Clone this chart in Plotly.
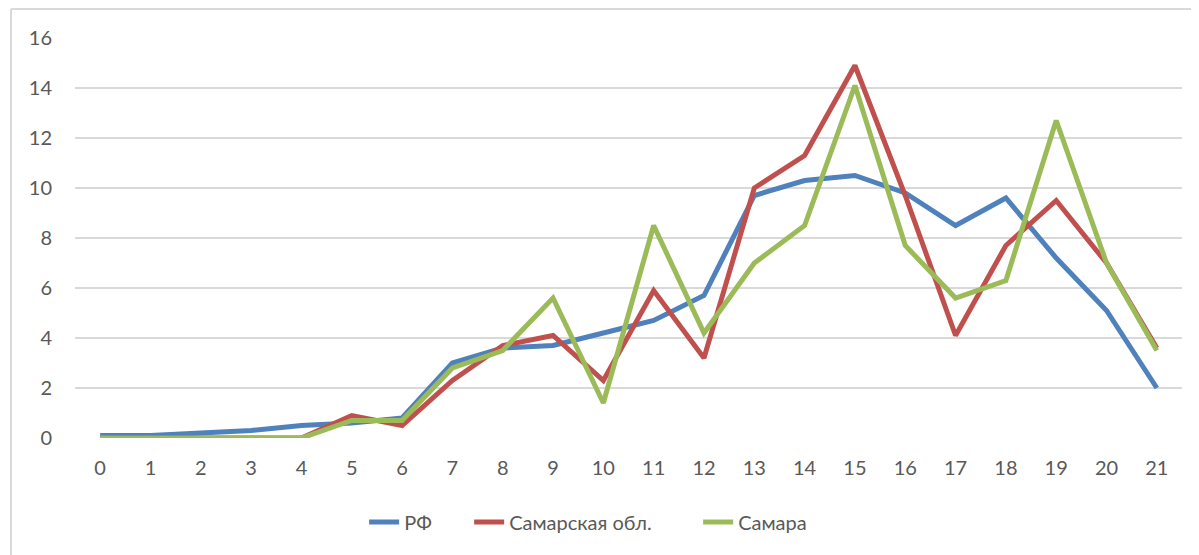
import plotly.graph_objects as go

categories = list(range(0, 22))
rf = [0.1, 0.1, 0.2, 0.3, 0.5, 0.6, 0.8, 3.0, 3.6, 3.7, 4.2, 4.7, 5.7, 9.7, 10.3, 10.5, 9.8, 8.5, 9.6, 7.2, 5.1, 2.0]
samara_obl = [0, 0, 0, 0, 0, 0.9, 0.5, 2.3, 3.7, 4.1, 2.3, 5.9, 3.2, 10.0, 11.3, 14.9, 9.7, 4.1, 7.7, 9.5, 7.0, 3.6]
samara = [0, 0, 0, 0, 0, 0.7, 0.7, 2.8, 3.5, 5.6, 1.4, 8.5, 4.2, 7.0, 8.5, 14.1, 7.7, 5.6, 6.3, 12.7, 7.0, 3.5]

series_names = ["РФ", "Самарская обл.", "Самара"]
colors = ["#4F81BD", "#C0504D", "#9BBB59"]
legend_widths = [60, 184, 80]
y_ticks = [0, 2, 4, 6, 8, 10, 12, 14, 16]

fig = go.Figure()
for name, vals, col, lw in zip(series_names, [rf, samara_obl, samara], colors, legend_widths):
    fig.add_trace(go.Scatter(x=categories, y=vals, mode="lines", name=name,
                             line=dict(color=col, width=5), legendwidth=lw))

font = dict(family="Lato, Carlito, sans-serif", size=20, color="#595959")

# page body has an 8px margin, so the figure is shifted by 8px
fig.update_layout(
    width=1191, height=547,
    margin=dict(l=67, r=17, t=30, b=117),
    paper_bgcolor="white", plot_bgcolor="white",
    font=font,
    showlegend=True,
    legend=dict(orientation="h", x=0.4685, xanchor="center", y=-0.21, yanchor="middle",
                font=font, traceorder="normal"),
    xaxis=dict(range=[-0.5, 21.5], tickmode="array", tickvals=categories,
               ticktext=[str(c) for c in categories], showgrid=False, zeroline=False,
               showline=False, ticks="", ticklabelstandoff=16, tickfont=font),
    yaxis=dict(range=[0, 16], tickmode="array", tickvals=y_ticks,
               showgrid=True, gridcolor="#d9d9d9", gridwidth=2, zeroline=False,
               showline=False, ticks="", ticklabelstandoff=22, tickfont=font),
    shapes=[
        dict(type="line", xref="paper", yref="paper", x0=-0.0578, x1=1.05, y0=1.0725, y1=1.0725,
             line=dict(color="#d9d9d9", width=2)),
        dict(type="line", xref="paper", yref="paper", x0=-0.0578, x1=-0.0578, y0=1.0725, y1=-0.35,
             line=dict(color="#d9d9d9", width=2)),
    ],
)

fig.write_html("out.html")
